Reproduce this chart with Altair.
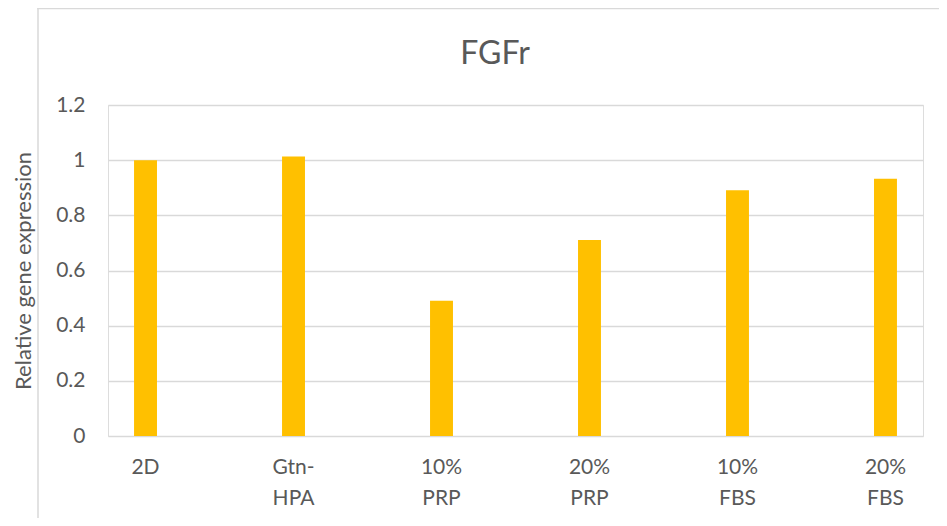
import altair as alt
import pandas as pd

categories = ["2D", "Gtn-HPA", "10% PRP", "20% PRP", "10% FBS", "20% FBS"]
values = [1.0, 1.013, 0.49, 0.711, 0.891, 0.933]
y_ticks = [0, 0.2, 0.4, 0.6, 0.8, 1.0, 1.2]
chart_title = "FGFr"

df = pd.DataFrame({"cat": categories, "val": values})

FONT = "Lato"
GREY = "#595959"
LINE = "#d9d9d9"

bars = alt.Chart(df).mark_bar(color="#FFC000").encode(
    x=alt.X(
        "cat:N",
        sort=categories,
        title=None,
        scale=alt.Scale(paddingInner=0.845, paddingOuter=0.176),
        axis=alt.Axis(
            domain=False,
            ticks=False,
            tickSize=0,
            grid=False,
            labelAngle=0,
            labelFont=FONT,
            labelFontSize=21,
            labelColor=GREY,
            labelPadding=20,
            labelLineHeight=31,
            labelBaseline="top",
            labelExpr="datum.label == 'Gtn-HPA' ? ['Gtn-', 'HPA'] : split(datum.label, ' ')",
        ),
    ),
    y=alt.Y(
        "val:Q",
        title="Relative gene expression",
        scale=alt.Scale(domain=[0, 1.2], nice=False),
        axis=alt.Axis(
            values=y_ticks,
            format="~g",
            domain=False,
            ticks=False,
            tickSize=0,
            grid=True,
            gridColor=LINE,
            gridWidth=1.3,
            labelFont=FONT,
            labelFontSize=21,
            labelColor=GREY,
            labelPadding=23,
            titleFont=FONT,
            titleFontSize=22,
            titleFontWeight="normal",
            titleColor=GREY,
            titlePadding=20,
        ),
    ),
)

frame_data = alt.Data(values=[{"t": chart_title}])
left_border = alt.Chart(frame_data).mark_rule(color=LINE, strokeWidth=1.5).encode(
    x=alt.value(-70), y=alt.value(-97), y2=alt.value(430)
)
top_border = alt.Chart(frame_data).mark_rule(color=LINE, strokeWidth=1.5).encode(
    x=alt.value(-70.75), x2=alt.value(845), y=alt.value(-96.5)
)
title_text = alt.Chart(frame_data).mark_text(
    font=FONT, fontSize=32, color=GREY, align="center", baseline="alphabetic"
).encode(text="t:N", x=alt.value(387), y=alt.value(-41))

chart = alt.layer(left_border, top_border, title_text, bars).properties(
    width=815,
    height=331,
    autosize=alt.AutoSizeParams(type="none"),
    padding={"left": 100, "top": 97, "right": 16, "bottom": 82},
).configure_view(stroke=None).configure(background="white")

chart.save("out.html", embed_options={"renderer": "svg", "actions": False})
